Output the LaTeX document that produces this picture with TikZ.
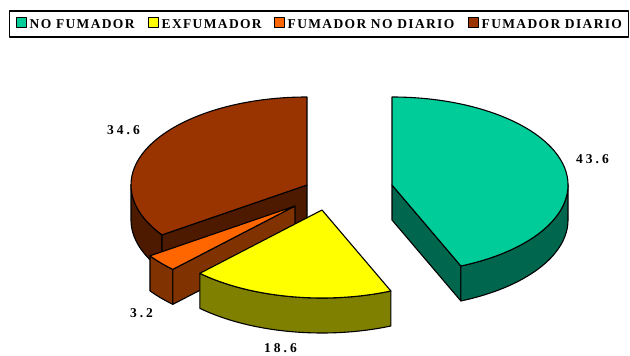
\documentclass[tikz,border=0pt]{standalone}
\usepackage{xcolor}
\usepackage{tikz}
\usepackage{fontspec}
\setmainfont{Liberation Serif}
\newfontfamily\legfont[LetterSpace=10]{Liberation Serif}
\newfontfamily\valfont[LetterSpace=22]{Liberation Serif}
\usetikzlibrary{shapes,arrows,positioning,calc}
\definecolor{nofum}{RGB}{0,204,153}
\definecolor{nofumside}{RGB}{0,102,77}
\definecolor{exfum}{RGB}{255,255,0}
\definecolor{exfumside}{RGB}{128,128,0}
\definecolor{fumnd}{RGB}{255,102,0}
\definecolor{fumndside}{RGB}{128,51,0}
\definecolor{fumd}{RGB}{153,51,0}
\definecolor{fumdside}{RGB}{77,26,0}

\begin{document}
\begin{tikzpicture}[x=1pt, y=1pt, line join=round,
    face/.style={draw=black, line width=1.1pt},
    pieell/.style={x radius=176pt, y radius=88pt},
    legkey/.style={draw=black, line width=1pt, minimum size=10pt, inner sep=0pt},
    legtext/.style={anchor=base west, inner sep=0pt, font=\legfont\bfseries\fontsize{13.5}{13.5}\selectfont},
    vallabel/.style={inner sep=0pt, font=\valfont\bfseries\fontsize{13.5}{13.5}\selectfont}]
    \useasboundingbox (0,0) rectangle (630,356);

    % legend
    \draw[line width=1.6pt] (9.5,345) rectangle (628.5,319);
    \foreach \x/\col/\txt in {16/nofum/NO FUMADOR, 148/exfum/EXFUMADOR, 274/fumnd/FUMADOR NO DIARIO, 468/fumd/FUMADOR DIARIO}
    {
        \node[legkey, fill=\col] (key\x) at (\x+5,333) {};
        \node[legtext] (leg\x) at (\x+13.5,327) {\txt};
    }

    % fumador diario
    \coordinate (cb) at (307,171);
    \coordinate (bwest) at ($(cb)+(180:176pt and 88pt)$);
    \coordinate (bfront) at ($(cb)+(214.52:176pt and 88pt)$);
    \coordinate (bback) at ($(cb)+(90:176pt and 88pt)$);
    \filldraw[face, fill=fumdside] (bwest) arc[pieell, start angle=180, end angle=214.52] -- ++(0,-35)
        arc[pieell, start angle=214.52, end angle=180] -- cycle;
    \filldraw[face, fill=fumdside] (cb) -- (bfront) -- ++(0,-35) -- ($(cb)+(0,-35)$) -- cycle;
    \filldraw[face, fill=fumd] (cb) -- (bback) arc[pieell, start angle=90, end angle=214.52] -- cycle;

    % no fumador
    \coordinate (cg) at (392,171);
    \coordinate (gfront) at ($(cg)+(-66.96:176pt and 88pt)$);
    \filldraw[face, fill=nofumside] (cg) -- (gfront) -- ++(0,-35) -- ($(cg)+(0,-35)$) -- cycle;
    \filldraw[face, fill=nofumside] (gfront) arc[pieell, start angle=-66.96, end angle=0] -- ++(0,-35)
        arc[pieell, start angle=0, end angle=-66.96] -- cycle;
    \filldraw[face, fill=nofum] (cg) -- (gfront) arc[pieell, start angle=-66.96, end angle=90] -- cycle;

    % fumador no diario
    \coordinate (co) at (295,150);
    \coordinate (oleft) at ($(co)+(214.52:176pt and 88pt)$);
    \coordinate (ofront) at ($(co)+(226.04:176pt and 88pt)$);
    \filldraw[face, fill=fumndside] (oleft) arc[pieell, start angle=214.52, end angle=226.04] -- ++(0,-35)
        arc[pieell, start angle=226.04, end angle=214.52] -- cycle;
    \filldraw[face, fill=fumndside] (co) -- (ofront) -- ++(0,-35) -- ($(co)+(0,-35)$) -- cycle;
    \filldraw[face, fill=fumnd] (co) -- (oleft) arc[pieell, start angle=214.52, end angle=226.04] -- cycle;

    % exfumador
    \coordinate (cy) at (322,146);
    \coordinate (yleft) at ($(cy)+(226.04:176pt and 88pt)$);
    \filldraw[face, fill=exfumside] (yleft) arc[pieell, start angle=226.04, end angle=293.04] -- ++(0,-35)
        arc[pieell, start angle=293.04, end angle=226.04] -- cycle;
    \filldraw[face, fill=exfum] (cy) -- (yleft) arc[pieell, start angle=226.04, end angle=293.04] -- cycle;

    % values
    \node[vallabel] (val346) at (123.5,225.5) {34.6};
    \node[vallabel] (val436) at (592.5,196.5) {43.6};
    \node[vallabel] (val32) at (141.5,43) {3.2};
    \node[vallabel] (val186) at (280.5,7.5) {18.6};
\end{tikzpicture}
\end{document}
